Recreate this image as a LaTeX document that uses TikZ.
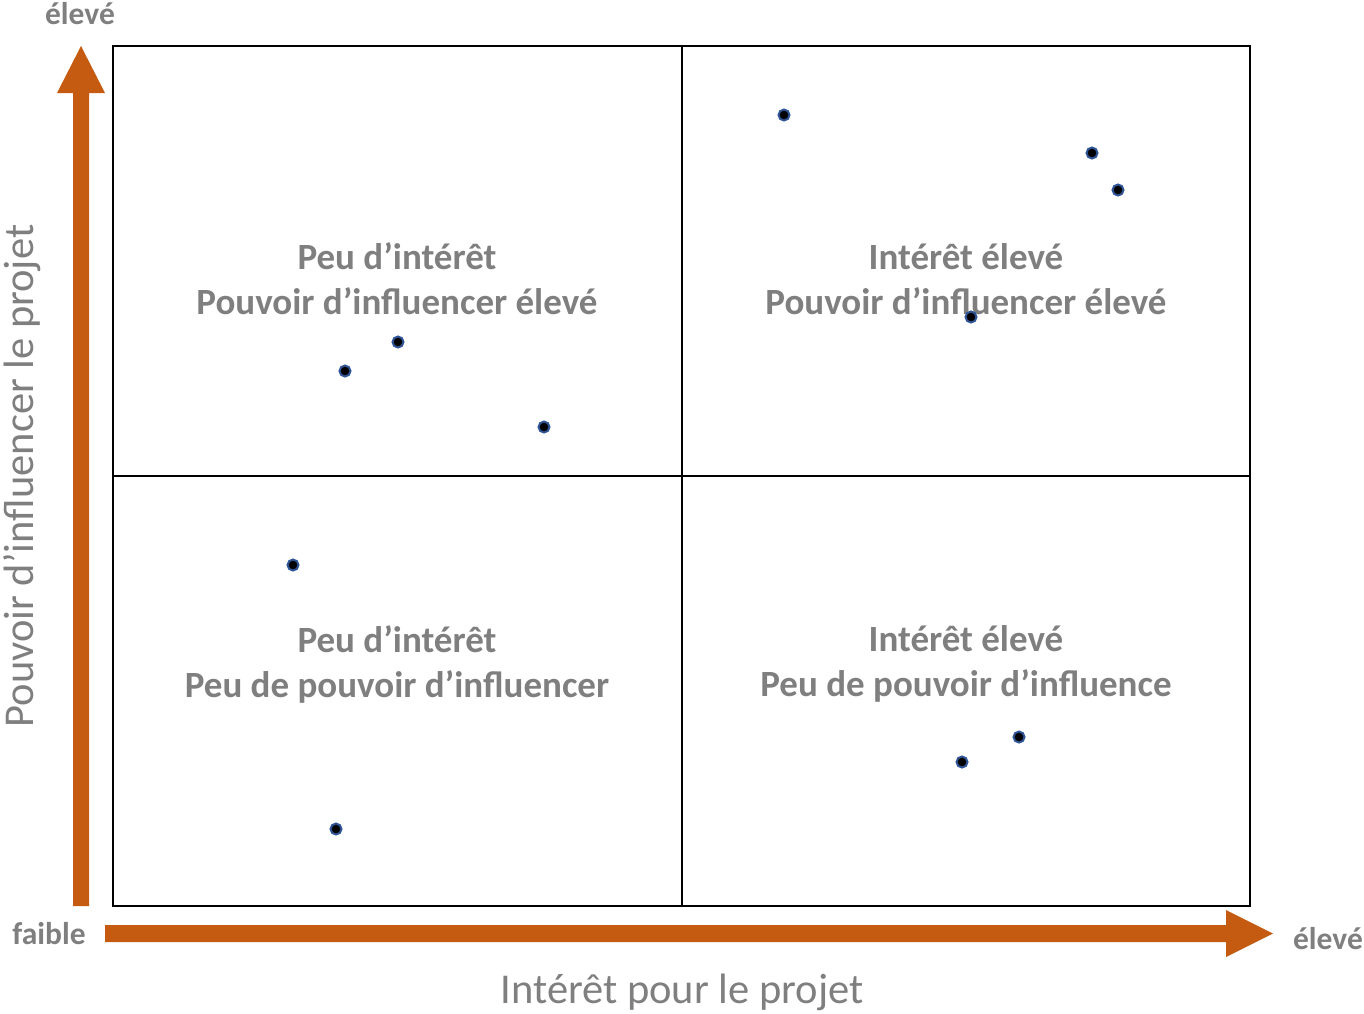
\documentclass[tikz,border=0pt]{standalone}
\usepackage{fontspec}
\setmainfont{Carlito}
\definecolor{arrowc}{HTML}{C55A11}
\definecolor{txtc}{HTML}{7F7F7F}
\definecolor{dotc}{HTML}{2F5597}
\begin{document}
\begin{tikzpicture}[x=1pt,y=-1pt,
  quad/.style={align=center,text=txtc,font=\fontsize{37}{45}\selectfont\bfseries},
  axlab/.style={text=txtc,font=\fontsize{42.5}{46}\selectfont},
  endlab/.style={text=txtc,font=\fontsize{31.5}{34}\selectfont\bfseries},
  pt/.style={circle,fill=black,draw=dotc,line width=2pt,inner sep=0pt,minimum size=11pt},
  bigarrow/.style={fill=arrowc,draw=none}]
\useasboundingbox (0,0) rectangle (1364,1013);
% arrows
\fill[bigarrow] (73,906) -- (73,93) -- (57,93) -- (81,46) -- (105,93) -- (89,93) -- (89,906) -- cycle;
\fill[bigarrow] (105,925) -- (1226,925) -- (1226,910) -- (1273,933.5) -- (1226,957) -- (1226,942) -- (105,942) -- cycle;
% grid
\draw[line width=2.5pt] (113,46) rectangle (1250,906);
\draw[line width=2.2pt] (682,46) -- (682,906);
\draw[line width=2.2pt] (113,476) -- (1250,476);
% labels
\node[quad] (tl) at (397,279) {Peu d’intérêt\\Pouvoir d’influencer élevé};
\node[quad] (tr) at (966,279) {Intérêt élevé\\Pouvoir d’influencer élevé};
\node[quad] (bl) at (397,664) {Peu d’intérêt\\Peu de pouvoir d’influencer};
\node[quad] (br) at (966,664) {Intérêt élevé\\Peu de pouvoir d’influence};
\node[axlab] (xl) at (682,992) {Intérêt pour le projet};
\node[axlab,rotate=90] (yl) at (22,476) {Pouvoir d’influencer le projet};
\node[endlab] (ytop) at (80,14) {élevé};
\node[endlab] (xlow) at (49,934) {faible};
\node[endlab] (xhigh) at (1328,939) {élevé};
% points
\foreach \n/\x/\y in {a/784/115,b/1092/153,c/1118/190,d/971/317,e/398/342,f/345/371,g/544/427,h/293/565,i/336/829,j/1019/737,k/962/762}
  \node[pt] (\n) at (\x,\y) {};
\end{tikzpicture}
\end{document}
